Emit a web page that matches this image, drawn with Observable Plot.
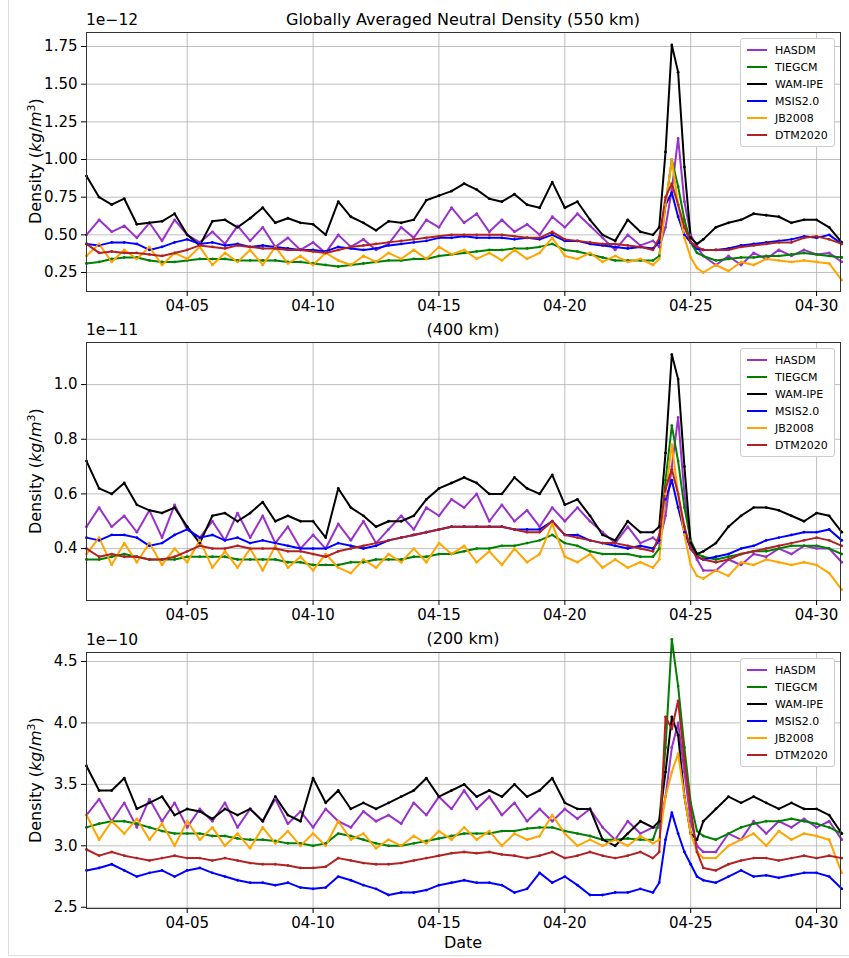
<!DOCTYPE html>
<html><head><meta charset="utf-8">
<script src="https://cdn.jsdelivr.net/npm/d3@7"></script>
<script src="https://cdn.jsdelivr.net/npm/@observablehq/plot@0.6"></script>
<style>
body{margin:0;background:#fff;font-family:"DejaVu Sans",sans-serif;}
#wrap{position:relative;width:849px;height:958px;overflow:hidden}
#wrap svg{display:block}
.ov{position:absolute;white-space:nowrap;color:#000}
.leg{position:absolute;background:#fff;border:1px solid #ccc;border-radius:3px;padding:3px 6px 2px 6px;font-size:11px;line-height:17px}
.leg span.sw{display:inline-block;width:20px;height:2.5px;vertical-align:middle;margin-right:8px;position:relative;top:-1px}
.yl{position:absolute;transform:rotate(-90deg);transform-origin:center;font-size:16px;white-space:nowrap;text-align:center;width:200px}
</style></head>
<body><div id="wrap"></div>
<script>
const models = ["HASDM","TIEGCM","WAM-IPE","MSIS2.0","JB2008","DTM2020"];
const colors = ["#9932cc","#008000","#000000","#0000ff","#ffa500","#b22222"];
const days = [];
for (let i=0;i<=45;i++) days.push(i*0.5);
days.push(22.75,23,23.25,23.5,23.75,24,24.25,24.5);
for (let i=0;i<=10;i++) days.push(25+i*0.5);

// 550 km (x1e-12)
const p1_HASDM=[0.50,0.60,0.52,0.56,0.48,0.58,0.46,0.60,0.50,0.45,0.52,0.44,0.56,0.46,0.55,0.42,0.48,0.40,0.45,0.38,0.50,0.42,0.47,0.40,0.44,0.55,0.48,0.60,0.55,0.68,0.58,0.64,0.52,0.60,0.52,0.57,0.50,0.62,0.55,0.64,0.56,0.48,0.40,0.50,0.43,0.46,
0.42,0.55,0.80,1.14,0.72,0.50,0.42,0.36,0.30,0.36,0.30,0.38,0.34,0.40,0.36,0.40,0.37,0.38,0.32];
const p1_TIEGCM=[0.31,0.32,0.34,0.35,0.35,0.33,0.32,0.32,0.33,0.34,0.34,0.34,0.33,0.33,0.33,0.33,0.32,0.32,0.31,0.30,0.29,0.30,0.31,0.32,0.33,0.33,0.34,0.34,0.36,0.37,0.38,0.39,0.40,0.40,0.41,0.41,0.42,0.44,0.40,0.39,0.37,0.35,0.33,0.33,0.33,0.33,
0.36,0.70,1.00,0.82,0.60,0.45,0.38,0.36,0.33,0.34,0.35,0.35,0.36,0.36,0.37,0.38,0.37,0.36,0.35];
const p1_WAM=[0.89,0.75,0.70,0.74,0.57,0.58,0.59,0.64,0.50,0.43,0.59,0.60,0.55,0.61,0.68,0.58,0.61,0.58,0.57,0.50,0.72,0.62,0.58,0.53,0.59,0.58,0.60,0.73,0.76,0.79,0.84,0.80,0.74,0.72,0.77,0.70,0.68,0.85,0.68,0.72,0.60,0.50,0.46,0.60,0.52,0.50,
0.55,1.05,1.76,1.58,0.95,0.48,0.44,0.47,0.55,0.58,0.60,0.64,0.63,0.62,0.58,0.60,0.60,0.55,0.45];
const p1_MSIS=[0.44,0.43,0.45,0.45,0.44,0.40,0.42,0.45,0.47,0.44,0.45,0.43,0.44,0.42,0.43,0.42,0.41,0.40,0.40,0.39,0.42,0.41,0.40,0.41,0.43,0.44,0.45,0.46,0.48,0.48,0.49,0.48,0.48,0.48,0.47,0.48,0.47,0.50,0.46,0.46,0.44,0.43,0.42,0.41,0.42,0.41,
0.45,0.70,0.78,0.62,0.50,0.45,0.41,0.40,0.40,0.41,0.43,0.44,0.45,0.46,0.47,0.49,0.48,0.50,0.44];
const p1_JB=[0.36,0.44,0.32,0.40,0.34,0.42,0.30,0.38,0.34,0.42,0.30,0.38,0.32,0.40,0.30,0.42,0.31,0.36,0.30,0.38,0.33,0.30,0.36,0.32,0.38,0.34,0.40,0.34,0.42,0.37,0.40,0.34,0.38,0.33,0.40,0.34,0.38,0.48,0.36,0.34,0.38,0.32,0.36,0.32,0.34,0.30,
0.34,0.70,1.00,0.70,0.48,0.35,0.28,0.25,0.30,0.26,0.32,0.30,0.34,0.33,0.32,0.33,0.32,0.31,0.20];
const p1_DTM=[0.44,0.38,0.39,0.38,0.38,0.37,0.36,0.38,0.40,0.43,0.42,0.41,0.43,0.42,0.41,0.41,0.40,0.40,0.39,0.38,0.40,0.42,0.43,0.44,0.45,0.46,0.47,0.48,0.49,0.50,0.50,0.50,0.50,0.50,0.49,0.48,0.48,0.52,0.47,0.46,0.45,0.44,0.44,0.43,0.42,0.40,
0.48,0.75,0.84,0.70,0.55,0.45,0.42,0.40,0.40,0.40,0.42,0.43,0.44,0.45,0.45,0.48,0.49,0.47,0.44];

// 400 km (x1e-11)
const p2_HASDM=[0.48,0.55,0.48,0.52,0.46,0.54,0.44,0.56,0.47,0.44,0.50,0.43,0.53,0.44,0.52,0.42,0.48,0.40,0.45,0.40,0.49,0.43,0.50,0.42,0.47,0.52,0.47,0.55,0.52,0.58,0.55,0.60,0.50,0.56,0.50,0.54,0.48,0.55,0.50,0.55,0.50,0.46,0.42,0.48,0.42,0.44,
0.42,0.52,0.70,0.88,0.60,0.42,0.36,0.32,0.32,0.36,0.34,0.38,0.37,0.40,0.38,0.41,0.40,0.40,0.35];
const p2_TIEGCM=[0.36,0.36,0.37,0.38,0.37,0.36,0.36,0.36,0.37,0.37,0.37,0.37,0.36,0.36,0.36,0.36,0.35,0.35,0.34,0.34,0.34,0.35,0.35,0.36,0.36,0.36,0.37,0.37,0.38,0.38,0.39,0.40,0.40,0.41,0.41,0.42,0.43,0.45,0.42,0.41,0.39,0.38,0.38,0.38,0.37,0.37,
0.40,0.65,0.85,0.72,0.55,0.43,0.38,0.37,0.36,0.37,0.38,0.39,0.39,0.40,0.41,0.41,0.41,0.40,0.38];
const p2_WAM=[0.72,0.62,0.60,0.64,0.56,0.54,0.53,0.55,0.48,0.42,0.52,0.53,0.50,0.53,0.57,0.50,0.52,0.50,0.50,0.44,0.62,0.55,0.52,0.48,0.50,0.50,0.52,0.58,0.62,0.64,0.66,0.64,0.60,0.60,0.66,0.62,0.60,0.67,0.56,0.58,0.52,0.45,0.43,0.50,0.46,0.46,
0.48,0.75,1.11,1.02,0.70,0.42,0.38,0.39,0.42,0.48,0.52,0.55,0.55,0.54,0.52,0.50,0.53,0.52,0.46];
const p2_MSIS=[0.44,0.43,0.45,0.45,0.44,0.41,0.42,0.45,0.47,0.44,0.45,0.43,0.44,0.42,0.43,0.42,0.41,0.40,0.40,0.40,0.42,0.41,0.40,0.41,0.43,0.44,0.45,0.46,0.47,0.48,0.48,0.48,0.48,0.48,0.47,0.47,0.47,0.50,0.45,0.45,0.43,0.42,0.41,0.40,0.41,0.40,
0.43,0.58,0.65,0.55,0.46,0.40,0.37,0.36,0.37,0.38,0.40,0.41,0.43,0.44,0.45,0.46,0.46,0.47,0.43];
const p2_JB=[0.38,0.44,0.34,0.42,0.35,0.42,0.34,0.40,0.35,0.43,0.33,0.39,0.33,0.40,0.32,0.41,0.33,0.37,0.32,0.38,0.33,0.31,0.36,0.33,0.38,0.35,0.40,0.35,0.42,0.38,0.41,0.35,0.39,0.34,0.40,0.35,0.38,0.49,0.37,0.35,0.38,0.33,0.36,0.33,0.35,0.33,
0.36,0.60,0.78,0.60,0.45,0.34,0.30,0.29,0.32,0.30,0.35,0.34,0.36,0.35,0.34,0.35,0.34,0.31,0.25];
const p2_DTM=[0.40,0.37,0.38,0.37,0.37,0.36,0.36,0.37,0.39,0.41,0.40,0.40,0.41,0.40,0.40,0.40,0.39,0.39,0.38,0.37,0.39,0.40,0.41,0.42,0.43,0.44,0.45,0.46,0.47,0.48,0.48,0.48,0.48,0.48,0.47,0.46,0.46,0.50,0.45,0.44,0.43,0.42,0.42,0.41,0.40,0.39,
0.45,0.62,0.69,0.60,0.48,0.40,0.37,0.36,0.35,0.36,0.38,0.39,0.40,0.41,0.42,0.43,0.44,0.43,0.41];

// 200 km (x1e-10)
const p3_HASDM=[3.25,3.38,3.20,3.35,3.15,3.38,3.20,3.35,3.15,3.30,3.20,3.35,3.15,3.30,3.20,3.38,3.18,3.28,3.15,3.30,3.20,3.15,3.28,3.20,3.25,3.18,3.35,3.25,3.40,3.30,3.45,3.30,3.40,3.25,3.35,3.20,3.30,3.20,3.30,3.22,3.30,3.15,3.05,3.20,3.10,3.15,
3.15,3.40,3.80,4.00,3.60,3.20,3.00,2.95,2.95,3.10,3.05,3.20,3.10,3.20,3.15,3.22,3.15,3.20,3.05];
const p3_TIEGCM=[3.15,3.18,3.20,3.20,3.18,3.15,3.12,3.10,3.10,3.10,3.08,3.08,3.06,3.05,3.05,3.04,3.02,3.02,3.00,3.02,3.10,3.08,3.05,3.02,3.00,3.00,3.02,3.04,3.06,3.08,3.10,3.10,3.10,3.12,3.12,3.14,3.15,3.15,3.12,3.10,3.08,3.05,3.05,3.06,3.05,3.05,
3.20,3.80,4.68,4.30,3.80,3.35,3.12,3.08,3.05,3.10,3.15,3.18,3.20,3.20,3.22,3.20,3.18,3.15,3.10];
const p3_WAM=[3.65,3.45,3.45,3.55,3.30,3.35,3.40,3.25,3.30,3.28,3.22,3.30,3.25,3.30,3.20,3.40,3.25,3.20,3.55,3.35,3.45,3.30,3.35,3.30,3.35,3.40,3.45,3.55,3.40,3.45,3.50,3.40,3.45,3.40,3.50,3.40,3.45,3.55,3.35,3.30,3.30,3.05,3.00,3.10,3.20,3.15,
3.20,3.60,4.05,3.90,3.40,3.10,3.05,3.20,3.30,3.40,3.35,3.40,3.35,3.30,3.35,3.30,3.30,3.25,3.10];
const p3_MSIS=[2.80,2.82,2.85,2.80,2.75,2.78,2.80,2.75,2.80,2.82,2.78,2.75,2.72,2.70,2.70,2.68,2.70,2.66,2.65,2.66,2.75,2.72,2.68,2.65,2.60,2.62,2.62,2.64,2.68,2.70,2.72,2.70,2.70,2.68,2.62,2.65,2.78,2.70,2.75,2.68,2.60,2.60,2.62,2.62,2.65,2.62,
2.70,3.05,3.27,3.10,2.95,2.85,2.75,2.72,2.70,2.75,2.80,2.75,2.76,2.74,2.76,2.78,2.78,2.75,2.65];
const p3_JB=[3.25,3.05,3.20,3.10,3.22,3.05,3.18,3.00,3.20,3.05,3.15,3.00,3.10,2.98,3.15,3.02,3.12,3.00,3.10,3.00,3.20,3.05,3.10,2.98,3.05,3.00,3.08,3.02,3.12,3.05,3.15,3.05,3.12,3.00,3.10,3.05,3.08,3.25,3.10,3.00,3.05,3.00,3.05,3.00,3.08,3.02,
3.05,3.40,3.60,3.75,3.40,3.10,2.95,2.90,2.90,3.00,3.05,3.10,3.00,3.12,3.05,3.10,3.08,3.05,2.78];
const p3_DTM=[2.97,2.92,2.95,2.92,2.90,2.88,2.90,2.92,2.90,2.90,2.88,2.90,2.88,2.86,2.85,2.85,2.84,2.82,2.82,2.83,2.90,2.88,2.86,2.85,2.85,2.86,2.88,2.90,2.92,2.94,2.95,2.94,2.95,2.93,2.92,2.90,2.92,2.95,2.90,2.92,2.95,2.92,2.90,2.92,2.95,2.90,
2.95,4.05,3.95,4.18,3.70,3.30,2.95,2.82,2.80,2.85,2.88,2.90,2.90,2.88,2.90,2.92,2.90,2.92,2.90];

const p1Ticks=[0.25,0.5,0.75,1.0,1.25,1.5,1.75];
const p2Ticks=[0.4,0.6,0.8,1.0];
const p3Ticks=[2.5,3.0,3.5,4.0,4.5];
const dateTicks=["2024-04-05","2024-04-10","2024-04-15","2024-04-20","2024-04-25","2024-04-30"];

const t0 = Date.UTC(2024,3,1);
const toDate = d => new Date(t0 + d*864e5);
const wrap = document.getElementById("wrap");

function panel(series, yDomain, yTicks, fmt, height, mTop, mBottom){
  const rows = [];
  series.forEach((vals,k)=>vals.forEach((v,i)=>rows.push({t:toDate(days[i]), v, m:models[k]})));
  return Plot.plot({
    width:849, height, marginLeft:86, marginRight:9, marginTop:mTop, marginBottom:mBottom,
    style:{fontFamily:"DejaVu Sans, sans-serif", fontSize:"15px", color:"#000", background:"#fff"},
    x:{type:"utc", domain:[toDate(0), toDate(29.95)]},
    y:{domain:yDomain},
    color:{domain:models, range:colors},
    marks:[
      Plot.gridX(dateTicks.map(s=>new Date(s)), {stroke:"#b0b0b0", strokeOpacity:1, strokeWidth:0.8}),
      Plot.gridY(yTicks, {stroke:"#b0b0b0", strokeOpacity:1, strokeWidth:0.8}),
      Plot.line(rows, {x:"t", y:"v", z:"m", stroke:"m", strokeWidth:2}),
      Plot.dot(rows, {x:"t", y:"v", fill:"m", r:1.4}),
      Plot.frame({stroke:"#333", strokeWidth:1}),
      Plot.axisX(dateTicks.map(s=>new Date(s)), {tickFormat:d3.utcFormat("%m-%d"), fontSize:15, tickSize:5, label:null}),
      Plot.axisY(yTicks, {tickFormat:d3.format(fmt), fontSize:15, tickSize:5, label:null})
    ]
  });
}
wrap.appendChild(panel([p1_HASDM,p1_TIEGCM,p1_WAM,p1_MSIS,p1_JB,p1_DTM],[0.124,1.843],p1Ticks,".2f",321,32,30));
wrap.appendChild(panel([p2_HASDM,p2_TIEGCM,p2_WAM,p2_MSIS,p2_JB,p2_DTM],[0.21,1.154],p2Ticks,".1f",309,21,30));
wrap.appendChild(panel([p3_HASDM,p3_TIEGCM,p3_WAM,p3_MSIS,p3_JB,p3_DTM],[2.49,4.573],p3Ticks,".1f",328,22,50));

function ov(html, x, y, size, center){
  const d=document.createElement("div"); d.className="ov"; d.innerHTML=html;
  d.style.left=x+"px"; d.style.top=y+"px"; d.style.fontSize=size+"px";
  if(center) d.style.transform="translateX(-50%)";
  wrap.appendChild(d);
}
ov("1e&minus;12",86,11,15.5,false);
ov("1e&minus;11",86,321,15.5,false);
ov("1e&minus;10",86,631,15.5,false);
ov("Globally Averaged Neutral Density (550 km)",463,10,16,true);
ov("(400 km)",463,320,16,true);
ov("(200 km)",463,629,16,true);
ov("Date",463,933,16,true);
[161,471,780].forEach(cy=>{
  const d=document.createElement("div"); d.className="yl";
  d.innerHTML='Density (<i>kg</i>/<i>m</i><sup style="font-size:11px">3</sup>)';
  d.style.left=(35-100)+"px"; d.style.top=(cy-10)+"px"; wrap.appendChild(d);
});
[38,348,658].forEach(top=>{
  const d=document.createElement("div"); d.className="leg";
  d.style.left="740px"; d.style.top=top+"px";
  d.innerHTML=models.map((m,i)=>`<div><span class="sw" style="background:${colors[i]}"></span>${m}</div>`).join("");
  wrap.appendChild(d);
});
const b=document.createElement("div");
b.style.cssText="position:absolute;left:8px;top:-2px;width:845px;height:956px;border:1px solid #ddd;pointer-events:none";
wrap.appendChild(b);
</script></body></html>
